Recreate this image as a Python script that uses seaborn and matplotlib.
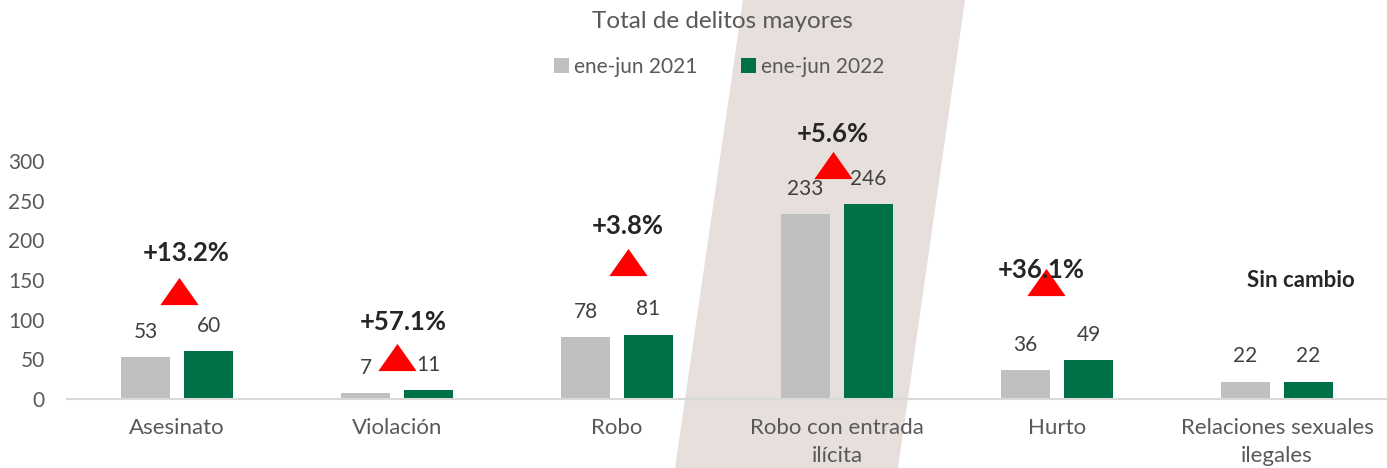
import matplotlib
matplotlib.use("Agg")
import matplotlib.pyplot as plt
from matplotlib.patches import Polygon
import pandas as pd
import seaborn as sns

# data
CATEGORIES = ["Asesinato", "Violación", "Robo", "Robo con entrada\nilícita",
              "Hurto", "Relaciones sexuales\nilegales"]
PERIODS = ["ene-jun 2021", "ene-jun 2022"]
VALUES_2021 = [53, 7, 78, 233, 36, 22]
VALUES_2022 = [60, 11, 81, 246, 49, 22]
CHANGE_LABELS = ["+13.2%", "+57.1%", "+3.8%", "+5.6%", "+36.1%", "Sin cambio"]
INCREASED = [True, True, True, True, True, False]

# hand-placed annotation layout (data units), as in the original slide
ARROW_X = [0.01, 1.0, 2.05, 2.98, 3.95, None]
ARROW_Y = [136, 53, 173, 295, 147, None]
LABEL_X = [0.04, 1.03, 2.05, 2.98, 3.93, 5.11]
LABEL_Y = [184, 97, 218, 334, 163, 149]

PALETTE = {"ene-jun 2021": "#BFBFBF", "ene-jun 2022": "#007046"}
TEXT = "#595959"
DARK = "#262626"
FS = 15

sns.set_theme(style="white")
plt.rcParams["font.family"] = ["Lato", "DejaVu Sans"]

df = pd.DataFrame({
    "categoria": CATEGORIES * 2,
    "periodo": [PERIODS[0]] * len(CATEGORIES) + [PERIODS[1]] * len(CATEGORIES),
    "delitos": VALUES_2021 + VALUES_2022,
})

W, H = 1387, 468
fig = plt.figure(figsize=(W / 100, H / 100), dpi=100)
fig.patch.set_facecolor("white")

# beige slanted band behind the highlighted group
band = Polygon([(743 / W, 1), (965 / W, 1), (898 / W, 0), (675 / W, 0)],
               closed=True, transform=fig.transFigure, facecolor="#E7DFDC",
               edgecolor="none", zorder=-1)
fig.add_artist(band)

ax = fig.add_axes([67 / W, 69 / H, 1 - 67 / W, 277.7 / H])
ax.set_facecolor("none")

sns.barplot(data=df, x="categoria", y="delitos", hue="periodo", palette=PALETTE,
            width=0.573, gap=0.22, saturation=1, linewidth=0, ax=ax)

for cont in ax.containers:
    ax.bar_label(cont, fmt="%.0f", padding=11, color="#404040", fontsize=FS)

ax.set_xlim(-0.5, len(CATEGORIES) - 0.5)
ax.set_ylim(0, 350)
ax.set_yticks(range(0, 301, 50))
ax.set_xlabel("")
ax.set_ylabel("")
ax.tick_params(axis="y", length=0, pad=16, labelsize=FS, labelcolor=TEXT)
ax.tick_params(axis="x", length=0, pad=14, labelsize=16, labelcolor=TEXT)
for lbl in ax.get_xticklabels():
    lbl.set_linespacing(1.45)
for side in ["top", "right", "left"]:
    ax.spines[side].set_visible(False)
ax.spines["bottom"].set_color("#D9D9D9")
ax.spines["bottom"].set_linewidth(1.5)
ax.grid(False)

# change markers and labels
tri = [(-1, -0.71), (1, -0.71), (0, 0.71)]
for i, label in enumerate(CHANGE_LABELS):
    if INCREASED[i]:
        ax.scatter(ARROW_X[i], ARROW_Y[i], marker=tri, s=760, color="#FF0000",
                   linewidths=0, zorder=4, clip_on=False)
        ax.text(LABEL_X[i], LABEL_Y[i], label, ha="center", va="center",
                fontsize=18.5, fontweight="bold", color=DARK, zorder=5)
    else:
        ax.text(LABEL_X[i], LABEL_Y[i], label, ha="center", va="center",
                fontsize=16, fontweight="bold", color=DARK, zorder=5)

handles, labels = ax.get_legend_handles_labels()
ax.get_legend().remove()
fig.legend(handles, labels, loc="center", bbox_to_anchor=(719 / W, 1 - 67 / H),
           ncol=2, frameon=False, fontsize=FS, labelcolor=TEXT,
           handlelength=0.72, handleheight=0.72, handletextpad=0.25,
           columnspacing=2.1)

fig.text(722 / W, 1 - 22 / H, "Total de delitos mayores", ha="center",
         va="center", fontsize=17.5, color=TEXT)

fig.savefig("out.png", dpi=100)
